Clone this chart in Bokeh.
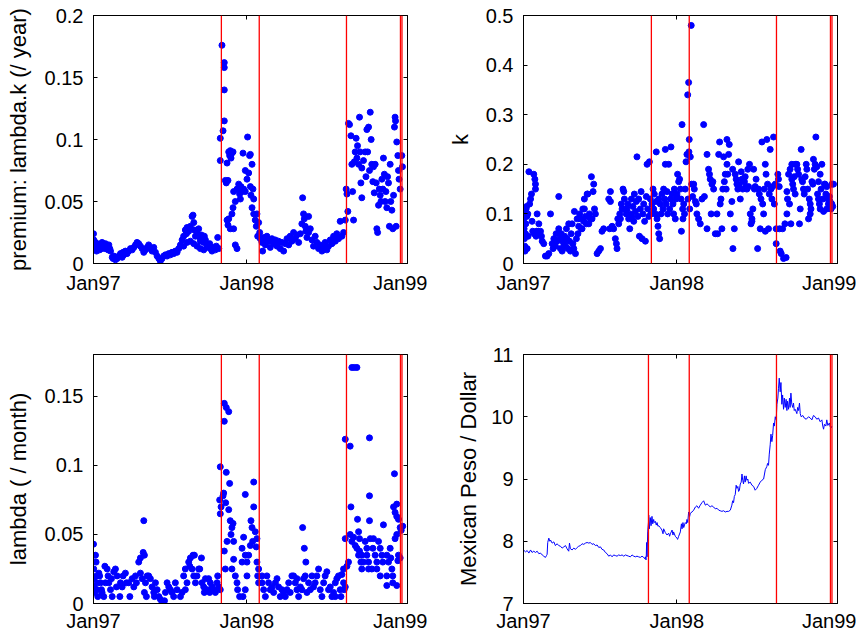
from bokeh.plotting import figure
from bokeh.layouts import column, row
from bokeh.models import Range1d, FixedTicker, LinearAxis, Span, CustomLabelingPolicy
from bokeh.embed import file_html
from bokeh.resources import INLINE

FONT = "Liberation Sans"

# x in years since Jan 1997
x_ticks = [0, 1, 2]
x_tick_labels = ["Jan97", "Jan98", "Jan99"]
event_lines = [0.834, 1.081, 1.650, 2.002, 2.012]
event_lines_peso = [0.815, 1.081, 1.650, 2.002, 2.012]

premium_yticks = [0, 0.05, 0.1, 0.15, 0.2]
premium_ylabels = ["0", "0.05", "0.1", "0.15", "0.2"]
k_yticks = [0, 0.1, 0.2, 0.3, 0.4, 0.5]
k_ylabels = ["0", "0.1", "0.2", "0.3", "0.4", "0.5"]
lambda_yticks = [0, 0.05, 0.1, 0.15]
lambda_ylabels = ["0", "0.05", "0.1", "0.15"]
peso_yticks = [7, 8, 9, 10, 11]
peso_ylabels = ["7", "8", "9", "10", "11"]

premium_pts = [
    (0.0, 0.024), (0.002, 0.019), (0.004, 0.015), (0.008, 0.012), (0.013, 0.017), (0.017, 0.013),
    (0.020, 0.010), (0.024, 0.016), (0.028, 0.012), (0.035, 0.014), (0.040, 0.011), (0.046, 0.015),
    (0.052, 0.012), (0.056, 0.017), (0.062, 0.013), (0.067, 0.015), (0.074, 0.012), (0.078, 0.016),
    (0.084, 0.014), (0.089, 0.013), (0.095, 0.011), (0.100, 0.015), (0.106, 0.012), (0.111, 0.010),
    (0.122, 0.005), (0.128, 0.004), (0.132, 0.006), (0.143, 0.003), (0.154, 0.004), (0.165, 0.006),
    (0.176, 0.008), (0.187, 0.005), (0.193, 0.009), (0.198, 0.007), (0.208, 0.010), (0.219, 0.008),
    (0.230, 0.010), (0.241, 0.012), (0.252, 0.011), (0.263, 0.013), (0.274, 0.015), (0.284, 0.017),
    (0.295, 0.016), (0.306, 0.014), (0.317, 0.012), (0.328, 0.009), (0.339, 0.011), (0.350, 0.013),
    (0.360, 0.015), (0.371, 0.012), (0.382, 0.010), (0.393, 0.013), (0.404, 0.009), (0.415, 0.006),
    (0.426, 0.004), (0.436, 0.002), (0.447, 0.004), (0.458, 0.006), (0.469, 0.007), (0.480, 0.006),
    (0.491, 0.008), (0.502, 0.007), (0.512, 0.009), (0.523, 0.008), (0.534, 0.010), (0.545, 0.009),
    (0.556, 0.012), (0.567, 0.015), (0.578, 0.019), (0.588, 0.022), (0.599, 0.027), (0.606, 0.024),
    (0.610, 0.029), (0.621, 0.026), (0.632, 0.030), (0.643, 0.038), (0.649, 0.039), (0.654, 0.033),
    (0.658, 0.027), (0.665, 0.022), (0.675, 0.025), (0.686, 0.028), (0.693, 0.021), (0.697, 0.018),
    (0.704, 0.023), (0.708, 0.020), (0.719, 0.017), (0.723, 0.022), (0.730, 0.019), (0.740, 0.015),
    (0.751, 0.013), (0.758, 0.016), (0.762, 0.012), (0.773, 0.010), (0.784, 0.013), (0.795, 0.011),
    (0.801, 0.014), (0.810, 0.021), (0.817, 0.012), (0.588, 0.014), (0.610, 0.017), (0.632, 0.018),
    (0.654, 0.016), (0.675, 0.014), (0.697, 0.012), (0.719, 0.011),
    (0.827, 0.083), (0.827, 0.101), (0.838, 0.176), (0.845, 0.107), (0.853, 0.162), (0.853, 0.158),
    (0.853, 0.140), (0.853, 0.115), (0.860, 0.067), (0.866, 0.065), (0.871, 0.081), (0.877, 0.067),
    (0.882, 0.090), (0.888, 0.087), (0.892, 0.091), (0.897, 0.085), (0.903, 0.089), (0.910, 0.090),
    (0.871, 0.035), (0.877, 0.031), (0.882, 0.036), (0.892, 0.028), (0.903, 0.040), (0.910, 0.045),
    (0.914, 0.058), (0.925, 0.050), (0.925, 0.015), (0.936, 0.012), (0.914, 0.028), (0.936, 0.060),
    (0.947, 0.064), (0.953, 0.056), (0.958, 0.052), (0.962, 0.062), (0.969, 0.058), (0.975, 0.089),
    (0.979, 0.060), (0.990, 0.075), (0.990, 0.058), (1.001, 0.068), (1.005, 0.102), (1.012, 0.073),
    (1.018, 0.087), (1.023, 0.088), (1.023, 0.062), (1.027, 0.055), (1.034, 0.080), (1.034, 0.045),
    (1.040, 0.060), (1.045, 0.052), (1.045, 0.040), (1.055, 0.035), (1.062, 0.030), (1.066, 0.040),
    (1.071, 0.022), (1.077, 0.033), (1.084, 0.025), (1.088, 0.020), (1.099, 0.017), (1.103, 0.010),
    (1.110, 0.021), (1.114, 0.019), (1.121, 0.015), (1.131, 0.022), (1.142, 0.018), (1.153, 0.013),
    (1.164, 0.020), (1.175, 0.016), (1.186, 0.019), (1.197, 0.014), (1.207, 0.018), (1.218, 0.012),
    (1.229, 0.017), (1.240, 0.010), (1.251, 0.016), (1.262, 0.020), (1.273, 0.015), (1.283, 0.022),
    (1.294, 0.018), (1.305, 0.025), (1.316, 0.020), (1.327, 0.023), (1.338, 0.017), (1.349, 0.024),
    (1.359, 0.032), (1.364, 0.053), (1.370, 0.040), (1.375, 0.036), (1.381, 0.030), (1.385, 0.026),
    (1.392, 0.021), (1.403, 0.038), (1.403, 0.025), (1.414, 0.028), (1.425, 0.019), (1.435, 0.014),
    (1.446, 0.022), (1.457, 0.017), (1.468, 0.012), (1.479, 0.015), (1.490, 0.010), (1.501, 0.013),
    (1.511, 0.017), (1.522, 0.011), (1.533, 0.014), (1.544, 0.019), (1.555, 0.016), (1.566, 0.022),
    (1.577, 0.018), (1.587, 0.024), (1.598, 0.020), (1.609, 0.034), (1.620, 0.022), (1.631, 0.025),
    (1.642, 0.035),
    (1.648, 0.060), (1.653, 0.056), (1.659, 0.042), (1.663, 0.113), (1.670, 0.112), (1.679, 0.103),
    (1.685, 0.080), (1.690, 0.058), (1.696, 0.035), (1.701, 0.082), (1.707, 0.090), (1.713, 0.101),
    (1.718, 0.085), (1.722, 0.095), (1.729, 0.080), (1.735, 0.118), (1.739, 0.090), (1.744, 0.065),
    (1.750, 0.053), (1.750, 0.077), (1.761, 0.083), (1.772, 0.090), (1.777, 0.070), (1.783, 0.108),
    (1.788, 0.090), (1.794, 0.110), (1.800, 0.075), (1.805, 0.122), (1.811, 0.100), (1.815, 0.080),
    (1.822, 0.066), (1.826, 0.078), (1.831, 0.057), (1.837, 0.080), (1.844, 0.065), (1.848, 0.028),
    (1.853, 0.025), (1.859, 0.047), (1.864, 0.060), (1.870, 0.055), (1.875, 0.050), (1.881, 0.068),
    (1.887, 0.060), (1.891, 0.085), (1.897, 0.072), (1.902, 0.050), (1.907, 0.058), (1.913, 0.045),
    (1.918, 0.070), (1.924, 0.065), (1.930, 0.030), (1.935, 0.080), (1.939, 0.050), (1.946, 0.043),
    (1.952, 0.028), (1.957, 0.055), (1.963, 0.110), (1.967, 0.118), (1.970, 0.115), (1.974, 0.030),
    (1.978, 0.098), (1.985, 0.087), (1.989, 0.075), (1.993, 0.068), (2.000, 0.060), (2.011, 0.087),
    (2.015, 0.078),
]

k_pts = [
    (0.0, 0.105), (0.002, 0.09), (0.004, 0.07), (0.006, 0.05), (0.008, 0.035), (0.010, 0.025),
    (0.013, 0.06), (0.015, 0.08), (0.017, 0.11), (0.020, 0.115), (0.022, 0.095), (0.024, 0.03),
    (0.028, 0.10), (0.030, 0.055), (0.035, 0.185), (0.040, 0.12), (0.046, 0.13), (0.052, 0.14),
    (0.056, 0.085), (0.060, 0.065), (0.067, 0.18), (0.070, 0.06), (0.074, 0.17), (0.078, 0.16),
    (0.078, 0.15), (0.082, 0.055), (0.085, 0.065), (0.089, 0.10), (0.095, 0.065), (0.100, 0.08),
    (0.106, 0.06), (0.111, 0.065), (0.117, 0.055), (0.122, 0.045), (0.132, 0.04), (0.143, 0.015),
    (0.154, 0.015), (0.165, 0.02), (0.176, 0.10), (0.187, 0.04), (0.193, 0.03), (0.198, 0.05),
    (0.208, 0.035), (0.213, 0.06), (0.219, 0.045), (0.230, 0.135), (0.230, 0.07), (0.237, 0.05),
    (0.241, 0.03), (0.246, 0.06), (0.252, 0.025), (0.256, 0.045), (0.263, 0.04), (0.268, 0.055),
    (0.274, 0.035), (0.280, 0.07), (0.284, 0.05), (0.290, 0.03), (0.295, 0.08), (0.300, 0.045),
    (0.306, 0.025), (0.311, 0.06), (0.317, 0.08), (0.322, 0.04), (0.328, 0.03), (0.332, 0.105),
    (0.339, 0.02), (0.345, 0.05), (0.350, 0.09), (0.355, 0.06), (0.360, 0.075), (0.366, 0.1),
    (0.371, 0.09), (0.377, 0.07), (0.382, 0.07), (0.387, 0.11), (0.393, 0.085), (0.397, 0.11),
    (0.397, 0.13), (0.404, 0.095), (0.410, 0.08), (0.415, 0.14), (0.419, 0.14), (0.426, 0.08),
    (0.430, 0.10), (0.436, 0.09), (0.443, 0.175), (0.447, 0.09), (0.454, 0.145), (0.458, 0.16),
    (0.463, 0.11), (0.469, 0.10), (0.480, 0.02), (0.491, 0.025), (0.502, 0.03), (0.512, 0.065),
    (0.523, 0.07), (0.556, 0.13), (0.562, 0.07), (0.567, 0.145), (0.567, 0.125), (0.578, 0.075),
    (0.588, 0.07), (0.599, 0.05), (0.606, 0.04), (0.610, 0.03), (0.615, 0.09), (0.621, 0.08),
    (0.628, 0.1), (0.632, 0.09), (0.638, 0.12), (0.643, 0.11), (0.649, 0.15), (0.654, 0.145),
    (0.658, 0.13), (0.665, 0.11), (0.670, 0.10), (0.675, 0.11), (0.680, 0.12), (0.686, 0.09),
    (0.693, 0.07), (0.697, 0.10), (0.704, 0.13), (0.708, 0.095), (0.714, 0.115), (0.719, 0.085),
    (0.723, 0.14), (0.730, 0.105), (0.736, 0.125), (0.740, 0.215), (0.746, 0.095), (0.751, 0.13),
    (0.756, 0.055), (0.762, 0.11), (0.767, 0.145), (0.773, 0.05), (0.778, 0.10), (0.784, 0.12),
    (0.790, 0.085), (0.795, 0.045), (0.801, 0.135), (0.806, 0.2), (0.810, 0.11), (0.817, 0.095),
    (0.821, 0.205), (0.827, 0.13), (0.832, 0.1), (0.838, 0.12), (0.845, 0.15), (0.849, 0.11),
    (0.853, 0.14), (0.860, 0.10), (0.866, 0.225), (0.866, 0.125), (0.871, 0.09), (0.877, 0.075),
    (0.882, 0.06), (0.882, 0.13), (0.888, 0.05), (0.892, 0.12), (0.897, 0.1), (0.903, 0.14),
    (0.910, 0.11), (0.914, 0.15), (0.920, 0.13), (0.925, 0.23), (0.925, 0.2), (0.930, 0.12),
    (0.936, 0.145), (0.940, 0.1), (0.947, 0.2), (0.953, 0.11), (0.958, 0.13), (0.962, 0.235),
    (0.969, 0.14), (0.975, 0.12), (0.979, 0.1), (0.984, 0.15), (0.990, 0.09), (0.995, 0.13),
    (1.001, 0.14), (1.005, 0.18), (1.012, 0.165), (1.018, 0.17), (1.023, 0.15), (1.027, 0.13),
    (1.030, 0.065), (1.034, 0.28), (1.038, 0.11), (1.040, 0.09), (1.045, 0.12), (1.050, 0.1),
    (1.055, 0.15), (1.060, 0.205), (1.066, 0.22), (1.071, 0.34), (1.073, 0.13), (1.077, 0.365),
    (1.079, 0.225), (1.081, 0.25), (1.084, 0.11), (1.088, 0.215), (1.094, 0.48), (1.097, 0.16),
    (1.103, 0.135), (1.110, 0.16), (1.114, 0.15), (1.121, 0.125), (1.127, 0.12), (1.131, 0.10),
    (1.142, 0.09), (1.153, 0.08), (1.164, 0.13), (1.175, 0.28), (1.180, 0.135), (1.197, 0.22),
    (1.197, 0.07), (1.207, 0.19), (1.213, 0.18), (1.218, 0.17), (1.224, 0.10), (1.229, 0.16),
    (1.235, 0.165), (1.240, 0.15), (1.251, 0.06), (1.262, 0.10), (1.266, 0.06), (1.273, 0.22),
    (1.279, 0.245), (1.283, 0.12), (1.288, 0.13), (1.294, 0.07), (1.300, 0.15), (1.305, 0.215),
    (1.310, 0.165), (1.316, 0.18), (1.322, 0.15), (1.327, 0.25), (1.327, 0.20), (1.332, 0.18),
    (1.338, 0.22), (1.342, 0.24), (1.349, 0.10), (1.359, 0.125), (1.364, 0.19), (1.366, 0.03),
    (1.375, 0.07), (1.381, 0.18), (1.387, 0.17), (1.392, 0.16), (1.398, 0.15), (1.403, 0.205),
    (1.408, 0.16), (1.414, 0.13), (1.420, 0.185), (1.425, 0.17), (1.430, 0.15), (1.435, 0.17),
    (1.441, 0.165), (1.446, 0.175), (1.452, 0.155), (1.457, 0.15), (1.463, 0.19), (1.468, 0.155),
    (1.474, 0.2), (1.479, 0.10), (1.484, 0.08), (1.490, 0.09), (1.490, 0.085), (1.496, 0.11),
    (1.501, 0.19), (1.506, 0.15), (1.511, 0.155), (1.517, 0.17), (1.527, 0.03), (1.533, 0.15),
    (1.538, 0.14), (1.544, 0.07), (1.549, 0.13), (1.555, 0.245), (1.560, 0.12), (1.566, 0.10),
    (1.571, 0.15), (1.577, 0.2), (1.577, 0.065), (1.582, 0.18), (1.587, 0.25), (1.592, 0.16),
    (1.598, 0.07), (1.603, 0.14), (1.609, 0.23), (1.614, 0.15), (1.620, 0.13), (1.625, 0.155),
    (1.631, 0.255), (1.636, 0.12), (1.642, 0.16), (1.648, 0.07), (1.648, 0.04), (1.659, 0.18),
    (1.663, 0.17), (1.668, 0.155), (1.670, 0.07), (1.674, 0.025), (1.681, 0.02), (1.690, 0.07),
    (1.696, 0.01), (1.705, 0.08), (1.713, 0.012), (1.718, 0.145), (1.718, 0.1), (1.722, 0.13),
    (1.729, 0.18), (1.735, 0.12), (1.739, 0.19), (1.744, 0.08), (1.750, 0.2), (1.750, 0.17),
    (1.756, 0.16), (1.761, 0.15), (1.766, 0.175), (1.772, 0.14), (1.772, 0.2), (1.783, 0.2),
    (1.788, 0.19), (1.794, 0.18), (1.800, 0.08), (1.805, 0.11), (1.811, 0.23), (1.815, 0.17),
    (1.820, 0.165), (1.826, 0.15), (1.831, 0.14), (1.837, 0.175), (1.844, 0.2), (1.848, 0.19),
    (1.853, 0.15), (1.859, 0.09), (1.864, 0.13), (1.870, 0.12), (1.870, 0.10), (1.875, 0.11),
    (1.881, 0.165), (1.887, 0.16), (1.891, 0.21), (1.897, 0.19), (1.902, 0.2), (1.907, 0.255),
    (1.913, 0.195), (1.918, 0.14), (1.924, 0.165), (1.924, 0.13), (1.930, 0.12), (1.935, 0.18),
    (1.935, 0.11), (1.941, 0.15), (1.946, 0.2), (1.952, 0.13), (1.957, 0.105), (1.963, 0.16),
    (1.967, 0.16), (1.972, 0.14), (1.978, 0.155), (1.978, 0.11), (1.985, 0.13), (1.989, 0.12),
    (1.995, 0.135), (2.000, 0.125), (2.006, 0.11), (2.011, 0.16), (2.011, 0.12), (2.017, 0.115),
    (2.022, 0.16),
]

lambda_pts = [
    (0.0, 0.043), (0.0, 0.035), (0.002, 0.025), (0.002, 0.018), (0.004, 0.012), (0.006, 0.008),
    (0.013, 0.035), (0.017, 0.03), (0.020, 0.02), (0.024, 0.015), (0.024, 0.01), (0.028, 0.005),
    (0.035, 0.022), (0.040, 0.02), (0.046, 0.015), (0.052, 0.01), (0.056, 0.008), (0.067, 0.005),
    (0.074, 0.027), (0.078, 0.015), (0.089, 0.025), (0.095, 0.02), (0.100, 0.015), (0.111, 0.01),
    (0.117, 0.018), (0.122, 0.005), (0.132, 0.023), (0.143, 0.025), (0.150, 0.012), (0.154, 0.02),
    (0.172, 0.005), (0.176, 0.015), (0.187, 0.012), (0.193, 0.02), (0.208, 0.022), (0.215, 0.015),
    (0.230, 0.015), (0.237, 0.005), (0.252, 0.018), (0.263, 0.012), (0.274, 0.02), (0.280, 0.015),
    (0.295, 0.03), (0.306, 0.033), (0.306, 0.022), (0.317, 0.018), (0.324, 0.037), (0.328, 0.06),
    (0.332, 0.035), (0.332, 0.008), (0.339, 0.015), (0.345, 0.005), (0.350, 0.02), (0.360, 0.02),
    (0.371, 0.018), (0.382, 0.012), (0.393, 0.008), (0.397, 0.005), (0.404, 0.015), (0.415, 0.01),
    (0.426, 0.005), (0.436, 0.003), (0.447, 0.001), (0.463, 0.002), (0.469, 0.008), (0.480, 0.015),
    (0.491, 0.012), (0.502, 0.01), (0.512, 0.008), (0.523, 0.005), (0.534, 0.015), (0.545, 0.01),
    (0.567, 0.005), (0.578, 0.008), (0.588, 0.02), (0.599, 0.025), (0.599, 0.01), (0.610, 0.015),
    (0.621, 0.03), (0.628, 0.027), (0.632, 0.033), (0.643, 0.025), (0.649, 0.035), (0.654, 0.02),
    (0.658, 0.035), (0.665, 0.015), (0.675, 0.02), (0.686, 0.025), (0.693, 0.025), (0.704, 0.033),
    (0.708, 0.015), (0.719, 0.012), (0.723, 0.008), (0.730, 0.018), (0.740, 0.01), (0.751, 0.018),
    (0.758, 0.008), (0.762, 0.015), (0.773, 0.012), (0.784, 0.01), (0.795, 0.008), (0.806, 0.015),
    (0.810, 0.02), (0.817, 0.012), (0.827, 0.01),
    (0.823, 0.075), (0.827, 0.099), (0.832, 0.07), (0.827, 0.065), (0.845, 0.078), (0.849, 0.08),
    (0.853, 0.145), (0.853, 0.132), (0.853, 0.038), (0.862, 0.073), (0.866, 0.142), (0.866, 0.095),
    (0.860, 0.025), (0.871, 0.045), (0.882, 0.139), (0.882, 0.068), (0.888, 0.087), (0.892, 0.06),
    (0.897, 0.05), (0.903, 0.055), (0.903, 0.025), (0.910, 0.058), (0.914, 0.045), (0.914, 0.032),
    (0.925, 0.02), (0.936, 0.015), (0.940, 0.01), (0.953, 0.005), (0.969, 0.03), (0.969, 0.04),
    (0.975, 0.005), (0.979, 0.048), (0.990, 0.035), (0.990, 0.079), (0.990, 0.01), (1.001, 0.02),
    (1.001, 0.03), (1.012, 0.035), (1.023, 0.042), (1.027, 0.06), (1.034, 0.055), (1.038, 0.045),
    (1.045, 0.088), (1.045, 0.07), (1.055, 0.052), (1.062, 0.041), (1.066, 0.047), (1.066, 0.03),
    (1.071, 0.02), (1.077, 0.025), (1.077, 0.015),
    (1.099, 0.015), (1.099, 0.02), (1.110, 0.01), (1.121, 0.005), (1.131, 0.02), (1.142, 0.015),
    (1.153, 0.01), (1.164, 0.012), (1.175, 0.008), (1.197, 0.018), (1.207, 0.012), (1.229, 0.01),
    (1.240, 0.008), (1.251, 0.005), (1.262, 0.01), (1.273, 0.015), (1.294, 0.02), (1.305, 0.02),
    (1.316, 0.015), (1.327, 0.01), (1.338, 0.005), (1.349, 0.012), (1.359, 0.01), (1.364, 0.055),
    (1.370, 0.018), (1.375, 0.04), (1.381, 0.02), (1.385, 0.03), (1.403, 0.015), (1.414, 0.01),
    (1.425, 0.02), (1.435, 0.012), (1.457, 0.02), (1.468, 0.025), (1.479, 0.01), (1.490, 0.005),
    (1.501, 0.015), (1.511, 0.02), (1.522, 0.023), (1.533, 0.01), (1.555, 0.005), (1.566, 0.008),
    (1.577, 0.015), (1.577, 0.005), (1.587, 0.018), (1.598, 0.02), (1.609, 0.01), (1.620, 0.021),
    (1.631, 0.015), (1.631, 0.025), (1.635, 0.01), (1.642, 0.012), (1.186, 0.015), (1.218, 0.005),
    (1.283, 0.008), (1.327, 0.018), (1.392, 0.008), (1.446, 0.015), (1.544, 0.012), (1.614, 0.005),
    (1.642, 0.119), (1.642, 0.047), (1.653, 0.027), (1.663, 0.03), (1.674, 0.114), (1.679, 0.07),
    (1.674, 0.05), (1.685, 0.171), (1.685, 0.045), (1.701, 0.171), (1.696, 0.048), (1.707, 0.042),
    (1.718, 0.171), (1.718, 0.04), (1.722, 0.061), (1.729, 0.052), (1.735, 0.047), (1.735, 0.038),
    (1.729, 0.035), (1.744, 0.03), (1.750, 0.035), (1.750, 0.025), (1.761, 0.03), (1.772, 0.045),
    (1.783, 0.04), (1.783, 0.035), (1.794, 0.03), (1.794, 0.025), (1.800, 0.12), (1.800, 0.078),
    (1.800, 0.06), (1.805, 0.047), (1.815, 0.025), (1.822, 0.04), (1.826, 0.047), (1.837, 0.035),
    (1.848, 0.03), (1.848, 0.025), (1.859, 0.045), (1.870, 0.04), (1.870, 0.02), (1.881, 0.035),
    (1.887, 0.03), (1.891, 0.057), (1.913, 0.035), (1.913, 0.02), (1.913, 0.013), (1.924, 0.03),
    (1.935, 0.04), (1.939, 0.033), (1.946, 0.025), (1.952, 0.015), (1.952, 0.02), (1.957, 0.07),
    (1.963, 0.094), (1.967, 0.066), (1.967, 0.047), (1.978, 0.072), (1.978, 0.063), (1.978, 0.05),
    (1.978, 0.013), (1.985, 0.031), (1.989, 0.061), (1.989, 0.035), (2.000, 0.033), (2.000, 0.055),
    (2.007, 0.053), (2.017, 0.056),
]

peso_pts = [
    (0.0, 7.86), (0.013, 7.83), (0.024, 7.85), (0.035, 7.81), (0.046, 7.86), (0.056, 7.82),
    (0.067, 7.84), (0.078, 7.82), (0.089, 7.84), (0.100, 7.80), (0.111, 7.81), (0.122, 7.78),
    (0.132, 7.76), (0.143, 7.74), (0.150, 7.77), (0.154, 7.79), (0.158, 7.98), (0.165, 8.05),
    (0.172, 8.00), (0.176, 8.02), (0.187, 7.97), (0.198, 7.99), (0.208, 7.93), (0.219, 7.96),
    (0.230, 7.93), (0.241, 7.92), (0.252, 7.89), (0.263, 7.91), (0.274, 7.93), (0.284, 7.88),
    (0.295, 7.84), (0.300, 7.97), (0.306, 7.88), (0.317, 7.86), (0.328, 7.89), (0.339, 7.87),
    (0.350, 7.90), (0.360, 7.92), (0.371, 7.93), (0.382, 7.96), (0.393, 7.95), (0.404, 7.97),
    (0.415, 7.98), (0.426, 7.97), (0.436, 7.98), (0.447, 7.95), (0.458, 7.96), (0.469, 7.93),
    (0.480, 7.94), (0.491, 7.90), (0.502, 7.91), (0.512, 7.87), (0.523, 7.86), (0.534, 7.82),
    (0.545, 7.80), (0.556, 7.76), (0.567, 7.78), (0.578, 7.75), (0.588, 7.78), (0.599, 7.77),
    (0.610, 7.76), (0.621, 7.78), (0.632, 7.77), (0.643, 7.78), (0.654, 7.76), (0.665, 7.78),
    (0.675, 7.77), (0.686, 7.76), (0.697, 7.75), (0.708, 7.78), (0.719, 7.76), (0.730, 7.75),
    (0.740, 7.76), (0.751, 7.75), (0.762, 7.74), (0.773, 7.76), (0.784, 7.74), (0.790, 7.72),
    (0.795, 7.75), (0.799, 7.70), (0.801, 7.78), (0.803, 7.98), (0.806, 7.75), (0.810, 8.15),
    (0.815, 8.30), (0.817, 8.42), (0.821, 8.20), (0.827, 8.38), (0.832, 8.25), (0.838, 8.40),
    (0.843, 8.28), (0.849, 8.35), (0.853, 8.30), (0.860, 8.32), (0.866, 8.26), (0.871, 8.30),
    (0.877, 8.24), (0.882, 8.25), (0.892, 8.22), (0.903, 8.18), (0.910, 8.12), (0.914, 8.20),
    (0.925, 8.14), (0.936, 8.10), (0.947, 8.13), (0.953, 8.08), (0.958, 8.12), (0.969, 8.18),
    (0.975, 8.10), (0.979, 8.15), (0.990, 8.08), (1.001, 8.05), (1.005, 8.03), (1.012, 8.08),
    (1.023, 8.15), (1.030, 8.28), (1.034, 8.20), (1.040, 8.30), (1.045, 8.22), (1.055, 8.30),
    (1.062, 8.28), (1.066, 8.35), (1.071, 8.30), (1.077, 8.47), (1.084, 8.40), (1.088, 8.45),
    (1.099, 8.47), (1.110, 8.50), (1.121, 8.55), (1.131, 8.57), (1.142, 8.53), (1.153, 8.58),
    (1.164, 8.62), (1.175, 8.65), (1.186, 8.58), (1.197, 8.60), (1.207, 8.58), (1.218, 8.55),
    (1.229, 8.57), (1.240, 8.55), (1.251, 8.52), (1.262, 8.53), (1.273, 8.50), (1.283, 8.49),
    (1.294, 8.48), (1.305, 8.49), (1.316, 8.47), (1.327, 8.48), (1.338, 8.48), (1.349, 8.50),
    (1.359, 8.58), (1.364, 8.65), (1.370, 8.62), (1.375, 8.72), (1.381, 8.75), (1.387, 8.90),
    (1.392, 8.85), (1.398, 8.88), (1.403, 8.80), (1.408, 8.82), (1.414, 8.92), (1.420, 8.95),
    (1.425, 9.08), (1.430, 8.98), (1.435, 8.92), (1.441, 9.05), (1.446, 8.95), (1.452, 9.05),
    (1.457, 8.98), (1.463, 9.00), (1.468, 8.93), (1.479, 8.95), (1.490, 8.90), (1.501, 8.88),
    (1.511, 8.82), (1.522, 8.85), (1.533, 8.90), (1.544, 8.95), (1.555, 8.98), (1.566, 9.00),
    (1.577, 9.15), (1.587, 9.20), (1.592, 9.25), (1.598, 9.22), (1.603, 9.40), (1.609, 9.55),
    (1.614, 9.72), (1.620, 9.60), (1.625, 9.70), (1.631, 9.90), (1.636, 9.85), (1.642, 10.00),
    (1.648, 9.95), (1.653, 10.20), (1.659, 10.30), (1.663, 10.45), (1.668, 10.62), (1.674, 10.40),
    (1.679, 10.55), (1.685, 10.20), (1.690, 10.35), (1.696, 10.12), (1.701, 10.30), (1.707, 10.15),
    (1.713, 10.28), (1.718, 10.10), (1.722, 10.25), (1.729, 10.12), (1.735, 10.30), (1.739, 10.15),
    (1.744, 10.38), (1.750, 10.20), (1.756, 10.15), (1.761, 10.22), (1.766, 10.10), (1.772, 10.12),
    (1.783, 10.05), (1.788, 10.15), (1.794, 10.10), (1.800, 10.22), (1.805, 10.05), (1.811, 10.00),
    (1.822, 10.02), (1.831, 9.98), (1.844, 9.96), (1.859, 10.00), (1.870, 9.98), (1.881, 9.95),
    (1.891, 10.02), (1.902, 10.00), (1.913, 9.96), (1.924, 9.98), (1.935, 9.92), (1.946, 9.95),
    (1.952, 9.85), (1.957, 9.80), (1.963, 9.88), (1.972, 9.85), (1.978, 9.95), (1.985, 9.86),
    (1.995, 9.90), (2.000, 9.84), (2.007, 9.82), (2.011, 9.85),
]

X_MAX = 2.048

HIDE_ALL = "for (const i of indices) { indices.unset(i) }\nreturn indices"


def style_axis(ax, labels_visible, standoff=10):
    ax.major_tick_in = 4
    ax.major_tick_out = 0
    ax.minor_tick_in = 0
    ax.minor_tick_out = 0
    ax.axis_line_color = "black"
    ax.major_tick_line_color = "black"
    ax.major_label_text_font = FONT
    ax.major_label_text_color = "black"
    if labels_visible:
        ax.major_label_text_font_size = "20px"
        ax.major_label_standoff = standoff
    else:
        ax.major_label_text_font_size = "1px"
        ax.major_label_standoff = 0
        ax.major_label_policy = CustomLabelingPolicy(code=HIDE_ALL)


def make_fig(width, height, borders, y_lo, y_hi, yticks, ylabels, ylabel, label_standoff, x_standoff):
    left, right, top, bottom = borders
    p = figure(width=width, height=height, x_range=Range1d(0, X_MAX), y_range=Range1d(y_lo, y_hi),
               output_backend="svg", toolbar_location=None,
               x_axis_location=None, y_axis_location=None,
               min_border_left=left, min_border_right=right,
               min_border_top=top, min_border_bottom=bottom)
    p.outline_line_color = "black"
    p.outline_line_width = 1
    p.background_fill_color = "white"
    p.border_fill_color = "white"
    p.xgrid.visible = False
    p.ygrid.visible = False

    xover = dict(zip(x_ticks, x_tick_labels))
    yover = dict(zip(yticks, ylabels))

    xb = LinearAxis(ticker=FixedTicker(ticks=x_ticks), major_label_overrides=xover)
    style_axis(xb, True, x_standoff)
    p.add_layout(xb, "below")
    xt = LinearAxis(ticker=FixedTicker(ticks=x_ticks))
    style_axis(xt, False)
    p.add_layout(xt, "above")

    yl = LinearAxis(ticker=FixedTicker(ticks=yticks), major_label_overrides=yover)
    style_axis(yl, True, 10)
    yl.axis_label = ylabel
    yl.axis_label_text_font = FONT
    yl.axis_label_text_font_size = "22px"
    yl.axis_label_text_font_style = "normal"
    yl.axis_label_text_color = "black"
    yl.axis_label_standoff = label_standoff
    p.add_layout(yl, "left")
    yr = LinearAxis(ticker=FixedTicker(ticks=yticks))
    style_axis(yr, False)
    p.add_layout(yr, "right")
    return p


def add_events(p, locs):
    for loc in locs:
        p.add_layout(Span(location=loc, dimension="height", line_color="#ff0000", line_width=1.3))


def add_dots(p, pts):
    xs = [a for a, b in pts]
    ys = [b for a, b in pts]
    p.scatter(xs, ys, marker="circle", size=6, fill_color="#0000ff", line_color="#0000ff", line_width=1)


# page origin is (0, 0): frames at x 93..407 / 523..837, y 15..263 / 354..603
p1 = make_fig(428, 318, (93, 21, 15, 55), 0, 0.2, premium_yticks, premium_ylabels,
              "premium: lambda.k (/ year)", 11, 8)
add_dots(p1, premium_pts)
add_events(p1, event_lines)

p2 = make_fig(428, 318, (95, 19, 15, 55), 0, 0.5, k_yticks, k_ylabels, "k", 10, 8)
add_dots(p2, k_pts)
add_events(p2, event_lines)

p3 = make_fig(428, 319, (93, 21, 36, 34), 0, 0.1804, lambda_yticks, lambda_ylabels,
              "lambda ( / month)", 11, 6)
add_dots(p3, lambda_pts)
add_events(p3, event_lines)

p4 = make_fig(428, 319, (95, 19, 36, 34), 7, 11, peso_yticks, peso_ylabels,
              "Mexican Peso / Dollar", 7, 6)
p4.line([a for a, b in peso_pts], [b for a, b in peso_pts], line_color="#0000ff", line_width=1)
add_events(p4, event_lines_peso)

layout = column(row(p1, p2), row(p3, p4))

open("out.html", "w").write(file_html(layout, INLINE))
